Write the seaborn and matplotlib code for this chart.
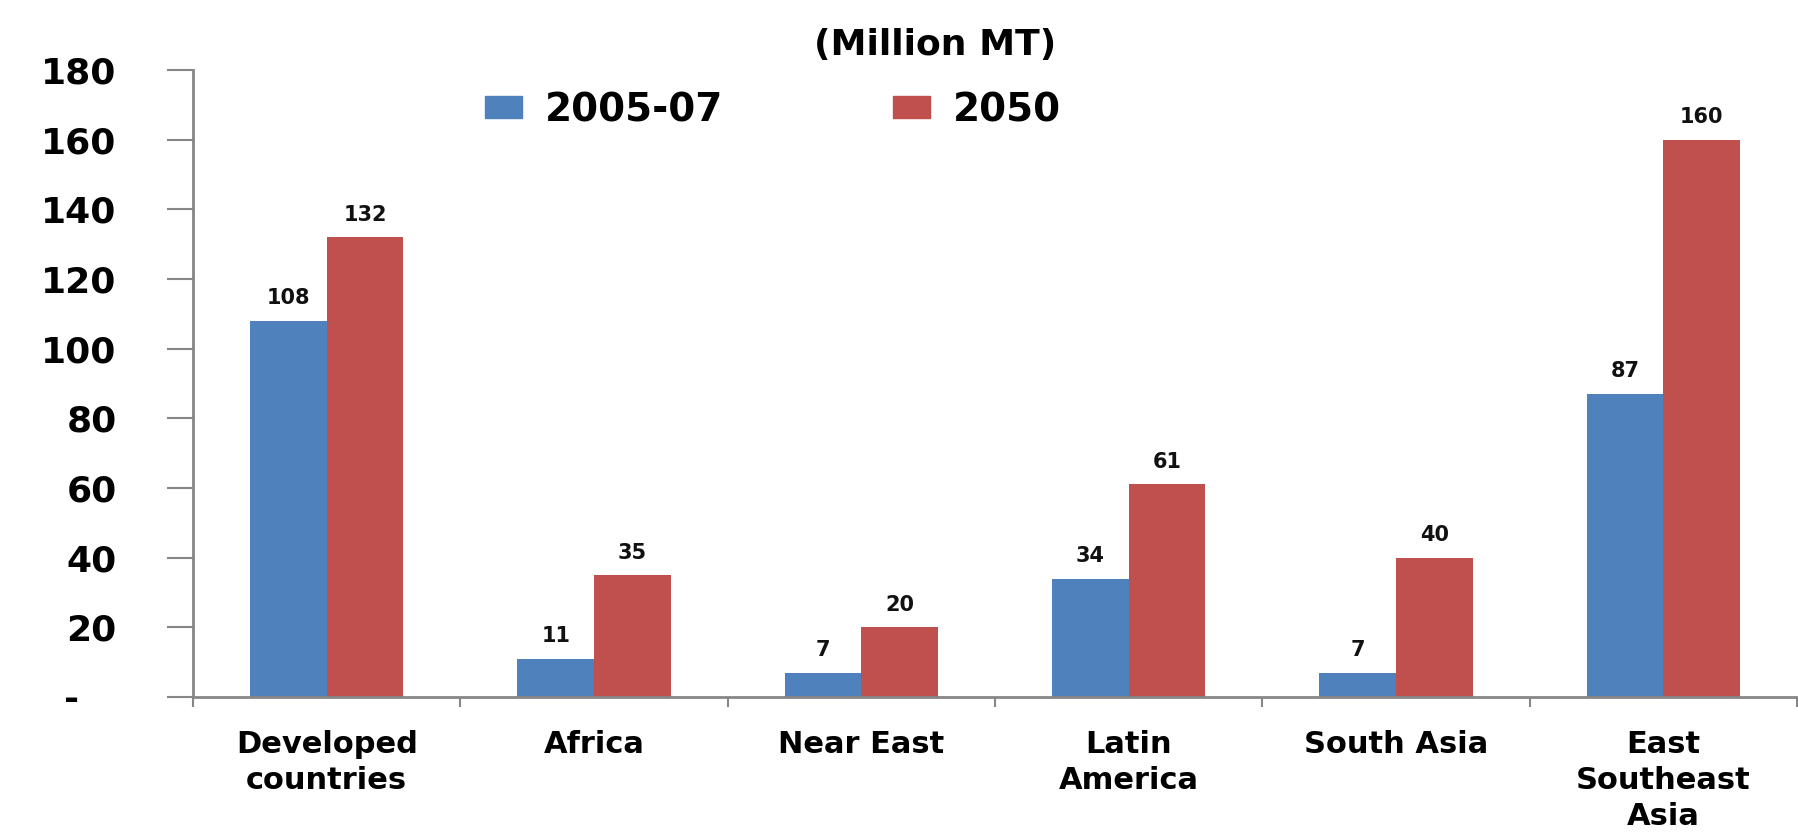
import matplotlib
matplotlib.use('Agg')
import matplotlib.pyplot as plt
import seaborn as sns
import pandas as pd
import numpy as np

regions = ['Developed\ncountries', 'Africa', 'Near East', 'Latin\nAmerica',
           'South Asia', 'East\nSoutheast\nAsia']
values_2005 = [108, 11, 7, 34, 7, 87]
values_2050 = [132, 35, 20, 61, 40, 160]
periods = ['2005-07', '2050']
y_ticks = [0, 20, 40, 60, 80, 100, 120, 140, 160, 180]
y_ticklabels = ['-   ', '20', '40', '60', '80', '100', '120', '140', '160', '180']

df = pd.DataFrame({
    'region': regions * 2,
    'value': values_2005 + values_2050,
    'period': [periods[0]] * len(regions) + [periods[1]] * len(regions),
})

sns.set_style('white')
plt.rcParams['font.family'] = ['DejaVu Sans']
plt.rcParams['font.weight'] = 'bold'
plt.rcParams['text.color'] = 'black'
plt.rcParams['xtick.color'] = 'black'
plt.rcParams['ytick.color'] = 'black'

fig = plt.figure(figsize=(17.99, 8.36), dpi=100)
ax = fig.add_axes([0.1073, 0.1663, 0.8916, 0.75])

sns.barplot(data=df, x='region', y='value', hue='period', ax=ax,
            palette=['#4F81BD', '#C0504D'], saturation=1, width=0.573,
            gap=0, legend=False, linewidth=0)

for c in ax.containers:
    ax.bar_label(c, fontsize=15, fontweight='bold', padding=9, color='#111111')

ax.set_xlim(-0.5, len(regions) - 0.5)
ax.set_ylim(0, 180)
ax.set_yticks(y_ticks)
ax.set_yticklabels(y_ticklabels, fontsize=26, fontweight='bold', color='black')
ax.set_xticks(range(len(regions)))
ax.set_xticklabels(regions, fontsize=22, fontweight='bold', linespacing=1.3,
                   color='black')
ax.set_xticks(np.arange(-0.5, len(regions), 1), minor=True)
ax.tick_params(axis='x', which='major', bottom=False, length=0, pad=24)
ax.tick_params(axis='x', which='minor', bottom=True, length=7, width=1.5,
               color='#868686', direction='out')
ax.tick_params(axis='y', left=True, length=19, width=1.5, color='#868686',
               labelcolor='black', direction='out', pad=36)
ax.set_xlabel('')
ax.set_ylabel('')

sns.despine(ax=ax, top=True, right=True)
for s in ['left', 'bottom']:
    ax.spines[s].set_color('#868686')
    ax.spines[s].set_linewidth(2)

handles = [plt.Rectangle((0, 0), 1, 1, color='#4F81BD'),
           plt.Rectangle((0, 0), 1, 1, color='#C0504D')]
fig.legend(handles, periods, loc='center left',
           bbox_to_anchor=(485 / 1799, 1 - 110 / 836), ncol=2, frameon=False,
           prop={'size': 28, 'weight': 'bold'}, borderpad=0, borderaxespad=0,
           handlelength=0.95, handleheight=0.5, handletextpad=0.6,
           columnspacing=4.35)

fig.text(935 / 1799, 1 - 45 / 836, '(Million MT)', ha='center', va='center',
         fontsize=26, fontweight='bold')

fig.savefig('out.png', dpi=100)
